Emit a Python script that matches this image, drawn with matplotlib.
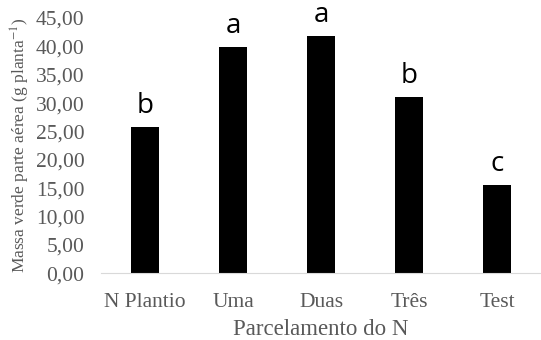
import matplotlib.pyplot as plt
import numpy as np

plt.rcParams["mathtext.fontset"] = "stix"

# dados
tratamentos = ["N Plantio", "Uma", "Duas", "Três", "Test"]
massa = [25.8, 39.9, 41.8, 31.0, 15.5]
letras = ["b", "a", "a", "b", "c"]

cinza = "#595959"

fig = plt.figure(figsize=(5.41, 3.4), dpi=100)
ax = fig.add_axes([0.187, 0.196, 0.813, 0.751])

x = np.arange(len(tratamentos))
ax.bar(x, massa, width=0.32, color="black")

for xi, v, l in zip(x, massa, letras):
    ax.text(xi, v + 1.3, l, ha="center", va="bottom", fontsize=20,
            family="Open Sans", color="black")

ax.set_xlim(-0.5, 4.5)
ax.set_ylim(0, 45)
ax.set_yticks(np.arange(0, 46, 5))
ax.set_yticklabels([f"{t:.2f}".replace(".", ",") for t in np.arange(0, 46, 5)])
ax.set_xticks(x)
ax.set_xticklabels(tratamentos)

for s in ["top", "right", "left"]:
    ax.spines[s].set_visible(False)
ax.spines["bottom"].set_color("#d9d9d9")
ax.tick_params(length=0, colors=cinza, labelsize=15.5)
ax.tick_params(axis="y", pad=12)
ax.tick_params(axis="x", pad=14)
for lab in ax.get_xticklabels() + ax.get_yticklabels():
    lab.set_family("Liberation Serif")

ax.set_xlabel("Parcelamento do N", family="Liberation Serif", fontsize=16.5,
              color=cinza, labelpad=5)
ax.set_ylabel("Massa verde parte aérea (g planta$^{-1}$)", family="Liberation Serif",
              fontsize=12.5, color=cinza, labelpad=3)

fig.savefig("out.png", dpi=100)
